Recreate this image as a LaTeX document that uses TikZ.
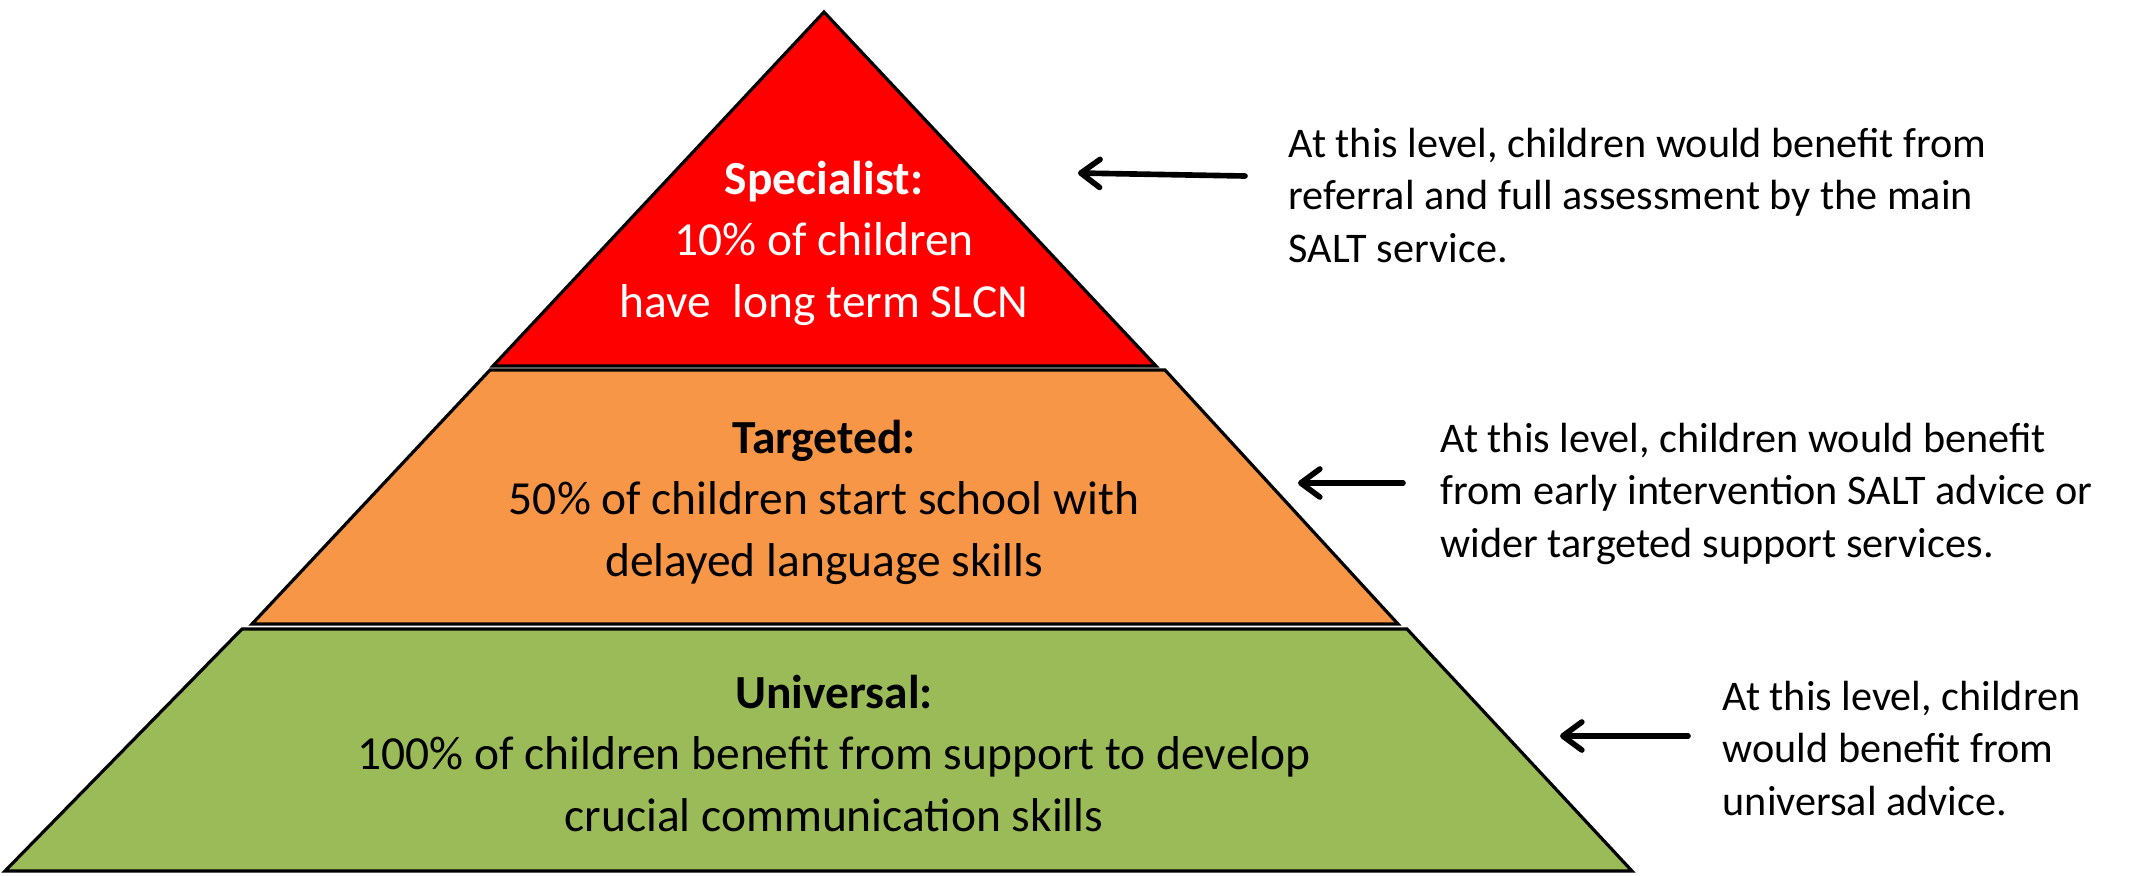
\documentclass[tikz,border=0pt]{standalone}
\usepackage{fontspec}
\setmainfont{Carlito}
\usetikzlibrary{calc, arrows.meta}

\tikzset{
	tier/.style={align=center, anchor=base, inner sep=0pt, font=\fontsize{13.5}{17.4}\selectfont},
	note/.style={align=left, anchor=base west, inner sep=0pt, font=\fontsize{12}{14.8}\selectfont},
	pointer/.style={-{Straight Barb[length=1.9mm, width=2.8mm, round]}, line width=1.6pt, line cap=round}
}

\begin{document}
\begin{tikzpicture}[x=0.01cm,y=-0.01cm]
	\definecolor{specred}{RGB}{255,0,0}
	\definecolor{targorange}{RGB}{247,150,70}
	\definecolor{univgreen}{RGB}{155,187,89}

	\useasboundingbox (0,0) rectangle (2129,875);

	% pyramid, bottom up
	\draw[line width=0.9pt, fill=univgreen] (242,629) -- (1407,629) -- (1632,871) -- (5,871) -- cycle;
	\draw[line width=0.9pt, fill=targorange] (490,370) -- (1165,370) -- (1398,624) -- (252,624) -- cycle;
	\draw[line width=0.9pt, fill=specred] (824,12) -- (1156,366) -- (493,366) -- cycle;

	\node[tier, text=white] (spec) at (824,317) {\textbf{Specialist:}\\10\% of children\\have\ \ long term SLCN};
	\node[tier] (targ) at (824,576) {\textbf{Targeted:}\\50\% of children start school with\\delayed language skills};
	\node[tier] (univ) at (834,831) {\textbf{Universal:}\\100\% of children benefit from support to develop\\crucial communication skills};

	\node[note] (note1) at (1288,262) {At this level, children would benefit from\\referral and full assessment by the main\\SALT service.};
	\node[note] (note2) at (1440,557) {At this level, children would benefit\\from early intervention SALT advice or\\wider targeted support services.};
	\node[note] (note3) at (1722,815) {At this level, children\\would benefit from\\universal advice.};

	\coordinate (tail1) at (1245,176);
	\coordinate (tip1) at (1078,173);
	\coordinate (tail2) at (1403,483);
	\coordinate (tip2) at (1298,483);
	\coordinate (tail3) at (1688,736);
	\coordinate (tip3) at (1560,736);

	\draw[pointer] (tail1) -- (tip1);
	\draw[pointer] (tail2) -- (tip2);
	\draw[pointer] (tail3) -- (tip3);
\end{tikzpicture}
\end{document}
